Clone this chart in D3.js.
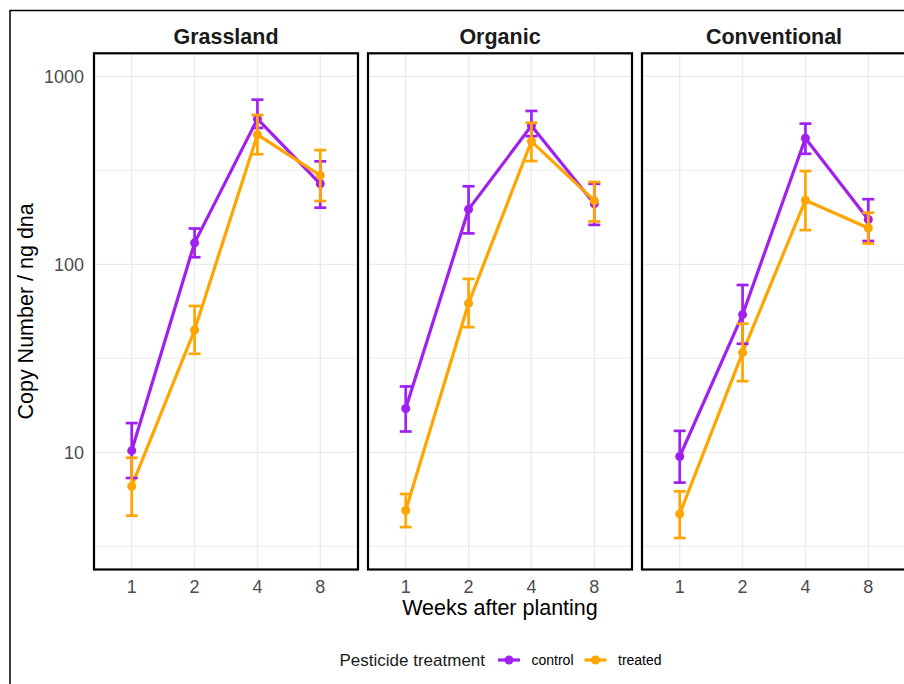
<!DOCTYPE html>
<html>
<head>
<meta charset="utf-8">
<script src="https://cdn.jsdelivr.net/npm/d3@7"></script>
<style>
  body { margin: 0; background: #fff; }
  svg { display: block; font-family: "Liberation Sans", Arial, sans-serif; }
</style>
</head>
<body>
<svg id="chart" width="904" height="684"></svg>
<script>
// facets and x categories
var facets = ["Grassland", "Organic", "Conventional"];
var weeks = ["1", "2", "4", "8"];
var treatments = ["control", "treated"];
var yTicks = [10, 100, 1000];

// values per facet, per week (copy number / ng dna)
var controlMean = [[10.2, 130, 593, 268], [17.1, 196, 545, 210], [9.5, 54, 468, 173]];
var controlLow = [[7.3, 109, 531, 200], [12.9, 146, 480, 162], [6.9, 37.8, 387, 133]];
var controlHigh = [[14.3, 155, 751, 353], [22.4, 260, 654, 268], [13.0, 77.6, 560, 222]];
var treatedMean = [[6.6, 44.7, 489, 297], [4.9, 62, 451, 218], [4.7, 33.9, 219, 156]];
var treatedLow = [[4.6, 33.4, 385, 217], [4.0, 46.3, 354, 169], [3.5, 23.9, 152, 129]];
var treatedHigh = [[9.35, 60, 622, 405], [6.0, 83.6, 566, 274], [6.2, 48.3, 313, 188]];

var colors = { control: "#A020F0", treated: "#FFA500" };

// build rows
var series = [];
facets.forEach(function (f, fi) {
    treatments.forEach(function (t) {
        var m = t === "control" ? controlMean : treatedMean;
        var lo = t === "control" ? controlLow : treatedLow;
        var hi = t === "control" ? controlHigh : treatedHigh;
        series.push({
            facet: fi,
            treatment: t,
            values: weeks.map(function (w, i) {
                return { week: w, mean: m[fi][i], low: lo[fi][i], high: hi[fi][i] };
            })
        });
    });
});

var svg = d3.select("#chart");

// outer frame (runs off the right and bottom edge)
svg.append("rect")
    .attr("x", 10).attr("y", 10.5)
    .attr("width", 960).attr("height", 760)
    .attr("fill", "none").attr("stroke", "#000").attr("stroke-width", 1.5);

var panelLeft = 94, panelStep = 274, panelW = 264;
var panelTop = 53.3, panelBottom = 569.5;

var y = d3.scaleLog()
    .domain([2.38, 1325])
    .range([panelBottom, panelTop]);

var minorTicks = [Math.pow(10, 0.5), Math.pow(10, 1.5), Math.pow(10, 2.5)];

facets.forEach(function (f, fi) {
    var x0 = panelLeft + fi * panelStep;
    var x = d3.scalePoint()
        .domain(weeks)
        .range([x0, x0 + panelW])
        .padding(0.6);

    var g = svg.append("g").attr("class", "panel");

    // grid
    g.selectAll("line.minor")
        .data(minorTicks)
        .enter().append("line")
        .attr("x1", x0).attr("x2", x0 + panelW)
        .attr("y1", function (d) { return y(d); })
        .attr("y2", function (d) { return y(d); })
        .attr("stroke", "#EBEBEB").attr("stroke-width", 1.1);
    g.selectAll("line.major")
        .data(yTicks)
        .enter().append("line")
        .attr("x1", x0).attr("x2", x0 + panelW)
        .attr("y1", function (d) { return y(d); })
        .attr("y2", function (d) { return y(d); })
        .attr("stroke", "#EBEBEB").attr("stroke-width", 1.3);
    g.selectAll("line.vgrid")
        .data(weeks)
        .enter().append("line")
        .attr("x1", function (d) { return x(d); })
        .attr("x2", function (d) { return x(d); })
        .attr("y1", panelTop).attr("y2", panelBottom)
        .attr("stroke", "#EBEBEB").attr("stroke-width", 1.3);

    var rows = series.filter(function (s) { return s.facet === fi; });

    var line = d3.line()
        .x(function (d) { return x(d.week); })
        .y(function (d) { return y(d.mean); });

    // lines
    g.selectAll("path.series")
        .data(rows)
        .enter().append("path")
        .attr("d", function (d) { return line(d.values); })
        .attr("fill", "none")
        .attr("stroke", function (d) { return colors[d.treatment]; })
        .attr("stroke-width", 3.2)
        .attr("stroke-linejoin", "round");

    // error bars + points per series
    rows.forEach(function (s) {
        var c = colors[s.treatment];
        var eb = g.append("g");
        eb.selectAll("line.v")
            .data(s.values).enter().append("line")
            .attr("x1", function (d) { return x(d.week); })
            .attr("x2", function (d) { return x(d.week); })
            .attr("y1", function (d) { return y(d.low); })
            .attr("y2", function (d) { return y(d.high); })
            .attr("stroke", c).attr("stroke-width", 2.7);
        ["low", "high"].forEach(function (k) {
            eb.selectAll("line." + k)
                .data(s.values).enter().append("line")
                .attr("x1", function (d) { return x(d.week) - 6; })
                .attr("x2", function (d) { return x(d.week) + 6; })
                .attr("y1", function (d) { return y(d[k]); })
                .attr("y2", function (d) { return y(d[k]); })
                .attr("stroke", c).attr("stroke-width", 2.7);
        });
        g.selectAll(null)
            .data(s.values).enter().append("circle")
            .attr("cx", function (d) { return x(d.week); })
            .attr("cy", function (d) { return y(d.mean); })
            .attr("r", 4.5)
            .attr("fill", c);
    });

    // panel border
    g.append("rect")
        .attr("x", x0).attr("y", panelTop)
        .attr("width", panelW).attr("height", panelBottom - panelTop)
        .attr("fill", "none").attr("stroke", "#000").attr("stroke-width", 2.2);

    // strip title
    g.append("text")
        .attr("x", x0 + panelW / 2).attr("y", 44.3)
        .attr("text-anchor", "middle")
        .attr("font-size", 21.5).attr("font-weight", "bold")
        .attr("fill", "#1A1A1A")
        .text(f);

    // x tick labels
    g.selectAll("text.xtick")
        .data(weeks).enter().append("text")
        .attr("x", function (d) { return x(d); })
        .attr("y", 592.5)
        .attr("text-anchor", "middle")
        .attr("font-size", 18).attr("fill", "#4D4D4D")
        .text(function (d) { return d; });
});

// y tick labels
svg.selectAll("text.ytick")
    .data(yTicks).enter().append("text")
    .attr("x", 84).attr("y", function (d) { return y(d); })
    .attr("dy", "0.36em")
    .attr("text-anchor", "end")
    .attr("font-size", 18).attr("fill", "#4D4D4D")
    .text(function (d) { return d; });

// axis titles
svg.append("text")
    .attr("transform", "translate(33," + ((panelTop + panelBottom) / 2) + ") rotate(-90)")
    .attr("text-anchor", "middle")
    .attr("font-size", 21.5).attr("fill", "#000")
    .text("Copy Number / ng dna");

svg.append("text")
    .attr("x", panelLeft + panelStep + panelW / 2).attr("y", 615)
    .attr("text-anchor", "middle")
    .attr("font-size", 21.5).attr("fill", "#000")
    .text("Weeks after planting");

// legend
var legend = svg.append("g").attr("transform", "translate(0,660)");
legend.append("text")
    .attr("x", 339.5).attr("dy", "0.35em")
    .attr("font-size", 17).attr("fill", "#1A1A1A")
    .text("Pesticide treatment");
var keyX = [498, 584.5];
treatments.forEach(function (t, i) {
    var k = legend.append("g").attr("transform", "translate(" + keyX[i] + ",0)");
    k.append("line")
        .attr("x1", 0).attr("x2", 22)
        .attr("stroke", colors[t]).attr("stroke-width", 3.2);
    k.append("circle")
        .attr("cx", 11).attr("r", 4.5).attr("fill", colors[t]);
    k.append("text")
        .attr("x", 33.5).attr("dy", "0.35em")
        .attr("font-size", 14).attr("fill", "#000")
        .text(t);
});
</script>
</body>
</html>
